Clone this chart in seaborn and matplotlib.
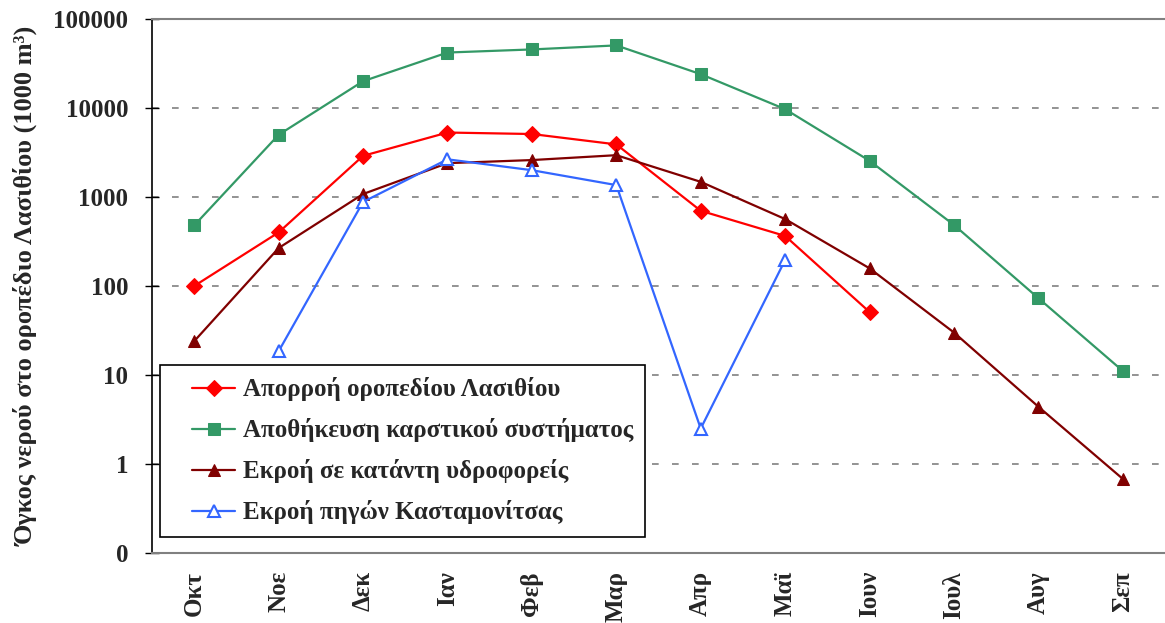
import numpy as np
import pandas as pd
import matplotlib
matplotlib.use('Agg')
import matplotlib.pyplot as plt
import seaborn as sns
from matplotlib.legend_handler import HandlerLine2D

# Months (hydrological year)
months = ['Οκτ', 'Νοε', 'Δεκ', 'Ιαν', 'Φεβ', 'Μαρ', 'Απρ', 'Μαϊ', 'Ιουν', 'Ιουλ', 'Αυγ', 'Σεπ']

# Series values (1000 m3)
runoff = [100, 400, 2900, 5300, 5100, 3900, 700, 365, 51, np.nan, np.nan, np.nan]
storage = [480, 5000, 20000, 42000, 45500, 50500, 24000, 9700, 2550, 485, 73, 11.1]
outflow = [24, 267, 1080, 2400, 2600, 2950, 1480, 565, 158, 30, 4.4, 0.68]
springs = [np.nan, 18.5, 880, 2650, 2000, 1360, 2.5, 196, np.nan, np.nan, np.nan, np.nan]

labels = ['Απορροή οροπεδίου Λασιθίου',
          'Αποθήκευση καρστικού συστήματος',
          'Εκροή σε κατάντη υδροφορείς',
          'Εκροή πηγών Κασταμονίτσας']

y_ticks = [0.1, 1, 10, 100, 1000, 10000, 100000]
y_tick_labels = ['0', '1', '10', '100', '1000', '10000', '100000']

sns.set_style('white')
plt.rcParams['font.family'] = ['Liberation Serif', 'DejaVu Serif']
plt.rcParams['font.weight'] = 'bold'

fig = plt.figure(figsize=(11.65, 6.23), dpi=100)
ax = fig.add_axes([0.1305, 0.1124, 0.8695, 0.8571])

x = np.arange(len(months))
styles = [
    dict(color='#FF0000', marker='D', markersize=8, markerfacecolor='#FF0000', markeredgecolor='#FF0000'),
    dict(color='#339966', marker='s', markersize=8, markerfacecolor='#339966', markeredgecolor='#339966'),
    dict(color='#800000', marker='^', markersize=9, markerfacecolor='#800000', markeredgecolor='#800000'),
    dict(color='#3366FF', marker='^', markersize=9, markerfacecolor='white', markeredgecolor='#3366FF',
         markeredgewidth=1.5),
]
for vals, lab, st in zip([runoff, storage, outflow, springs], labels, styles):
    df = pd.DataFrame({'x': x, 'y': vals}).dropna()
    sns.lineplot(data=df, x='x', y='y', ax=ax, label=lab, linewidth=1.6, **st)

ax.set_yscale('log')
ax.set_ylim(0.1, 100000)
ax.set_xlim(-0.5, 11.5)
ax.set_yticks(y_ticks)
ax.set_yticklabels(y_tick_labels)
ax.minorticks_off()
ax.set_xticks(x)
ax.set_xticklabels(months, rotation=90)
ax.tick_params(axis='y', which='major', left=True, direction='inout', length=10, width=1,
               color='black', labelsize=18, pad=12)
ax.tick_params(axis='x', length=0, labelsize=18, pad=13)
for t in ax.get_xticklabels() + ax.get_yticklabels():
    t.set_fontweight('bold')

# Dashed gridlines on decades
for v in y_ticks[1:-1]:
    ax.axhline(v, color='#808080', linestyle=(0, (4, 8)), linewidth=1.2, zorder=0)

ax.spines['left'].set_color('black')
ax.spines['left'].set_linewidth(1.2)
ax.spines['bottom'].set_color('#808080')
ax.spines['bottom'].set_linewidth(1.5)
ax.spines['top'].set_color('#808080')
ax.spines['top'].set_linewidth(1.5)
ax.spines['right'].set_visible(False)

ax.set_xlabel('')
ax.set_ylabel('Όγκος νερού στο οροπέδιο Λασιθίου (1000 m³)', fontsize=19, fontweight='bold')
ax.yaxis.set_label_coords(-0.112, 0.5)

leg = ax.legend(loc='lower left', bbox_to_anchor=(0.008, 0.03), borderaxespad=0,
                fancybox=False, framealpha=1, edgecolor='black',
                handlelength=2.5, handletextpad=0.3, borderpad=0.5, labelspacing=0.68,
                prop={'weight': 'bold', 'size': 18},
                handler_map={plt.Line2D: HandlerLine2D(xpad=0.78)})
leg.get_frame().set_linewidth(1.2)
for t in leg.get_texts():
    t.set_fontweight('bold')

fig.savefig('out.png', dpi=100)
